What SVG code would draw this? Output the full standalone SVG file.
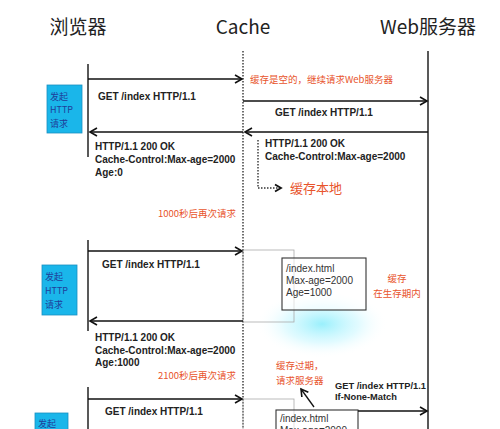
<svg xmlns="http://www.w3.org/2000/svg" width="500" height="429" viewBox="0 0 500 429">
<defs>
<marker id="ah" markerWidth="10" markerHeight="10" refX="8" refY="5" orient="auto" markerUnits="userSpaceOnUse">
<path d="M1,1 L8,5 L1,9" fill="none" stroke="#111" stroke-width="1.6"/>
</marker>
<marker id="ahs" markerWidth="10" markerHeight="10" refX="7" refY="5" orient="auto" markerUnits="userSpaceOnUse">
<path d="M1,1.5 L7,5 L1,8.5" fill="none" stroke="#111" stroke-width="1.8"/>
</marker>
<radialGradient id="glow" cx="0.5" cy="0.5" r="0.5">
<stop offset="0" stop-color="#8eeefc" stop-opacity="0.9"/>
<stop offset="0.55" stop-color="#c8f7ff" stop-opacity="0.55"/>
<stop offset="1" stop-color="#ffffff" stop-opacity="0"/>
</radialGradient>
<style>
.hd{font-family:"Noto Sans CJK SC","Noto Sans",sans-serif;font-size:19px;fill:#222}
.lb{font-family:"Liberation Sans",Arial,sans-serif;font-size:10px;font-weight:bold;fill:#222}
.sm{font-size:9.3px}
.bx{font-family:"Liberation Sans",Arial,sans-serif;font-size:10px;fill:#333}
.or{font-family:"Noto Sans CJK SC",sans-serif;font-size:9.5px;fill:#e8542c}
.bt{font-family:"Noto Sans CJK SC","Liberation Sans",sans-serif;font-size:9px;fill:#1f3f9a}
.ln{stroke:#111;stroke-width:1.3;fill:none}
.life{stroke:#222;stroke-width:1.5;fill:none}
.dot{stroke:#333;stroke-width:1.4;stroke-dasharray:1.5 1.5;fill:none}
.blue{fill:#1ab6ea;stroke:#1a8fc0;stroke-width:0.8}
.gbox{fill:none;stroke:#aaa;stroke-width:0.8}
.kbox{fill:#fff;fill-opacity:0.6;stroke:#333;stroke-width:1.1}
</style>
</defs>
<rect width="500" height="429" fill="#fff"/>

<g id="headers">
<text class="hd" x="78" y="34" text-anchor="middle">浏览器</text>
<text class="hd" x="243" y="34" text-anchor="middle">Cache</text>
<text class="hd" x="428" y="34" text-anchor="middle">Web服务器</text>
</g>

<g id="lifelines">
<line class="dot" x1="243" y1="51" x2="243" y2="429"/>
<line class="life" x1="428" y1="51" x2="428" y2="429" stroke="#333"/>
<line class="life" x1="88" y1="64" x2="88" y2="157"/>
<line class="life" x1="88" y1="240" x2="88" y2="331"/>
<line class="life" x1="88" y1="387" x2="88" y2="429"/>
</g>

<ellipse cx="322" cy="324" rx="66" ry="34" fill="url(#glow)"/>

<g id="req1">
<rect class="blue" x="47" y="85" width="35" height="48"/>
<text class="bt" x="50" y="100">发起</text>
<text class="bt" x="50" y="113">HTTP</text>
<text class="bt" x="50" y="127">请求</text>
</g>
<g id="req2">
<rect class="blue" x="42" y="265" width="35" height="50"/>
<text class="bt" x="45" y="280">发起</text>
<text class="bt" x="45" y="294">HTTP</text>
<text class="bt" x="45" y="308">请求</text>
</g>
<g id="req3">
<rect class="blue" x="35" y="413" width="33" height="22"/>
<text class="bt" x="38" y="427">发起</text>
</g>

<g id="cache2">
<rect class="gbox" x="243" y="250" width="51" height="72"/>
<rect class="kbox" x="282" y="258" width="84" height="52"/>
<text class="bx" x="286" y="272">/index.html</text>
<text class="bx" x="286" y="284">Max-age=2000</text>
<text class="bx" x="286" y="296">Age=1000</text>
</g>
<g id="cache3">
<rect class="gbox" x="243" y="399" width="51" height="40"/>
<rect class="kbox" x="276" y="410" width="82" height="30"/>
<text class="bx" x="280" y="422">/index.html</text>
<text class="bx" x="280" y="434">Max-age=2000</text>
</g>

<g id="connectors">
<line class="ln" x1="88" y1="79" x2="242" y2="79" marker-end="url(#ah)"/>
<line class="ln" x1="243" y1="101" x2="427" y2="101" marker-end="url(#ah)"/>
<line class="ln" x1="428" y1="132" x2="245" y2="132" marker-end="url(#ah)"/>
<line class="ln" x1="243" y1="132" x2="90" y2="132" marker-end="url(#ah)"/>
<polyline class="dot" points="258,140 258,188 281,188" marker-end="url(#ahs)"/>
<line class="ln" x1="88" y1="251" x2="242" y2="251" marker-end="url(#ah)"/>
<line class="ln" x1="243" y1="321" x2="90" y2="321" marker-end="url(#ah)"/>
<line class="ln" x1="88" y1="399" x2="242" y2="399" marker-end="url(#ah)"/>
<line class="ln" x1="358" y1="411" x2="427" y2="411" marker-end="url(#ah)"/>
<line class="ln" x1="314" y1="407" x2="301" y2="389" stroke-width="1.6" marker-end="url(#ah)"/>
</g>

<g id="labels">
<text class="lb" x="98" y="100">GET /index HTTP/1.1</text>
<text class="or" x="250" y="83">缓存是空的，继续请求Web服务器</text>
<text class="lb" x="275" y="116">GET /index HTTP/1.1</text>
<text class="lb" x="265" y="147">HTTP/1.1 200 OK</text>
<text class="lb" x="265" y="160">Cache-Control:Max-age=2000</text>
<text class="lb" x="95" y="150">HTTP/1.1 200 OK</text>
<text class="lb" x="95" y="163">Cache-Control:Max-age=2000</text>
<text class="lb" x="95" y="176">Age:0</text>
<text class="or" x="290" y="193" style="font-size:13px">缓存本地</text>
<text class="or" x="236" y="217" text-anchor="end">1000秒后再次请求</text>
<text class="lb" x="102" y="268">GET /index HTTP/1.1</text>
<text class="or" x="397" y="282" text-anchor="middle">缓存</text>
<text class="or" x="397" y="297" text-anchor="middle">在生存期内</text>
<text class="lb" x="95" y="341">HTTP/1.1 200 OK</text>
<text class="lb" x="95" y="354">Cache-Control:Max-age=2000</text>
<text class="lb" x="95" y="366">Age:1000</text>
<text class="or" x="236" y="379" text-anchor="end">2100秒后再次请求</text>
<text class="or" x="276" y="369">缓存过期，</text>
<text class="or" x="276" y="384">请求服务器</text>
<text class="lb sm" x="335" y="389">GET /index HTTP/1.1</text>
<text class="lb sm" x="335" y="400">If-None-Match</text>
<text class="lb" x="105" y="415">GET /index HTTP/1.1</text>
</g>
</svg>
